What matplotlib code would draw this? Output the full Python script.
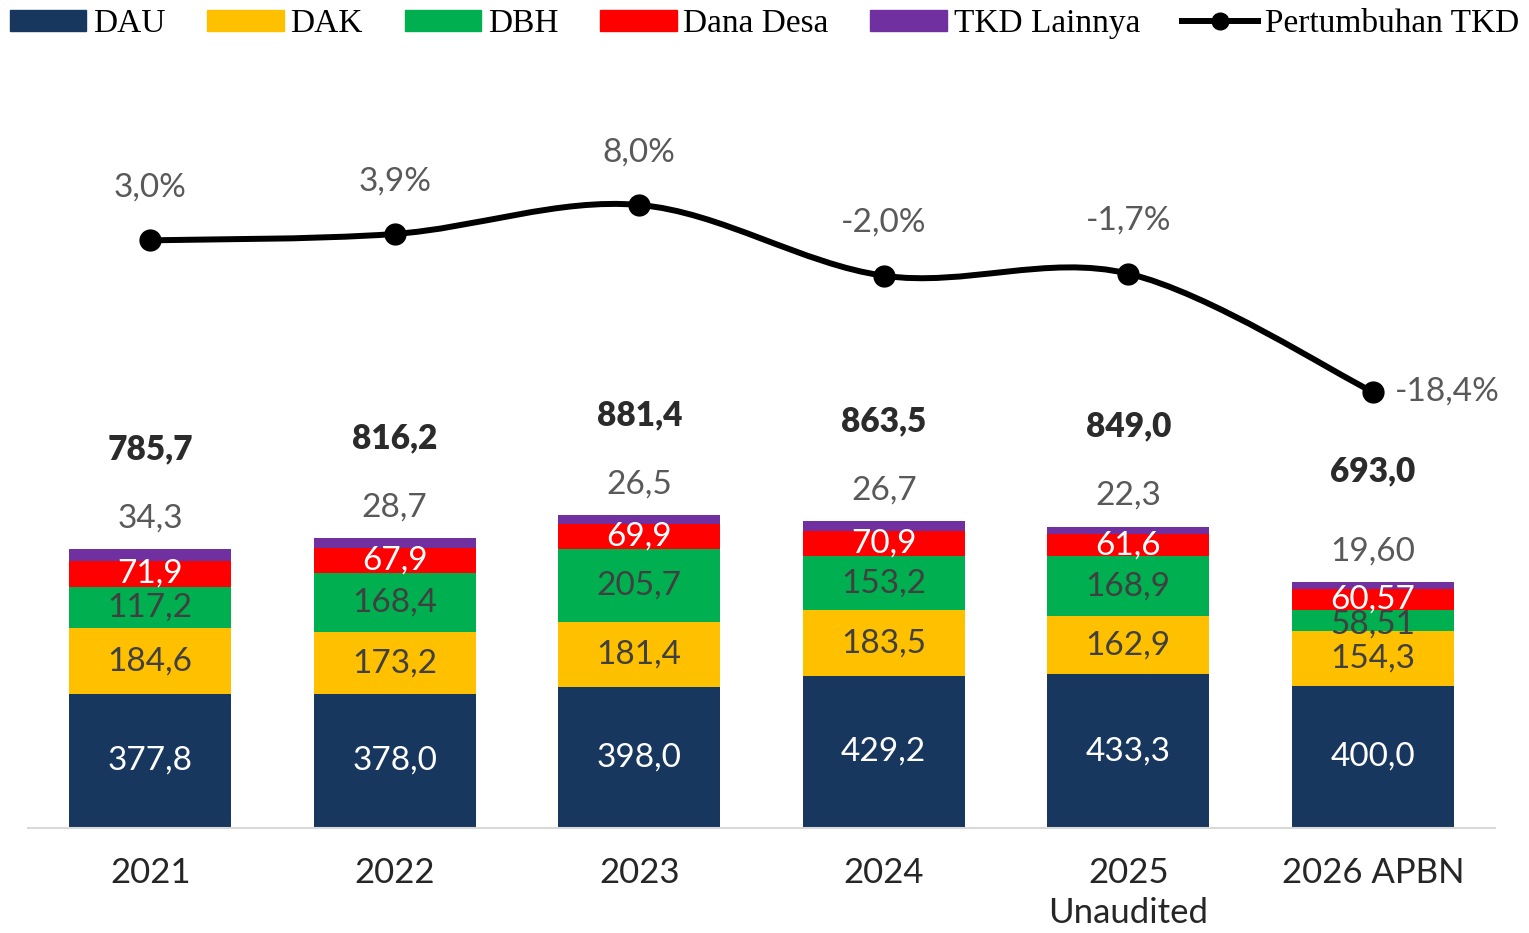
import matplotlib.pyplot as plt
import numpy as np
from matplotlib.lines import Line2D
from matplotlib.patches import Patch, PathPatch
from matplotlib.path import Path

years = ["2021", "2022", "2023", "2024", "2025\nUnaudited", "2026 APBN"]

dau = [377.8, 378.0, 398.0, 429.2, 433.3, 400.0]
dak = [184.6, 173.2, 181.4, 183.5, 162.9, 154.3]
dbh = [117.2, 168.4, 205.7, 153.2, 168.9, 58.51]
dana_desa = [71.9, 67.9, 69.9, 70.9, 61.6, 60.57]
tkd_lain = [34.3, 28.7, 26.5, 26.7, 22.3, 19.60]
totals = [785.7, 816.2, 881.4, 863.5, 849.0, 693.0]
growth = [3.0, 3.9, 8.0, -2.0, -1.7, -18.4]

# decimals shown in the labels (2026 APBN has two for some series)
dec_dbh = [1, 1, 1, 1, 1, 2]
dec_dd = [1, 1, 1, 1, 1, 2]
dec_lain = [1, 1, 1, 1, 1, 2]

series = [
    ("DAU", dau, "#17375e", "white", [1] * 6),
    ("DAK", dak, "#ffc000", "#404040", [1] * 6),
    ("DBH", dbh, "#00b050", "#404040", dec_dbh),
    ("Dana Desa", dana_desa, "#ff0000", "white", dec_dd),
]


def fmt(v, d=1):
    return f"{v:.{d}f}".replace(".", ",")


num_font = "Lato"
leg_font = "Liberation Serif"

fig = plt.figure(figsize=(15.29, 9.33), dpi=100)
ax = fig.add_axes([0.0183, 0.1125, 0.9595, 0.8232])
x = np.arange(len(years))
width = 0.663

bottom = np.zeros(len(years))
for name, vals, color, tcol, decs in series:
    vals = np.array(vals)
    ax.bar(x, vals, width, bottom=bottom, color=color, zorder=2)
    for xi, b, v, d in zip(x, bottom, vals, decs):
        # small segments on the last bar: nudge label down a little
        dy = -3 if (name == "DBH" and v < 80) else 0
        ax.annotate(fmt(v, d), (xi, b + v / 2), xytext=(0, dy),
                    textcoords="offset points", ha="center", va="center",
                    color=tcol, fontsize=24, family=num_font, zorder=3)
    bottom += vals

ax.bar(x, tkd_lain, width, bottom=bottom, color="#7030a0", zorder=2)
for xi, top, v, d in zip(x, bottom + np.array(tkd_lain), tkd_lain, dec_lain):
    ax.annotate(fmt(v, d), (xi, top), xytext=(0, 22), textcoords="offset points",
                ha="center", va="center", color="#595959", fontsize=24,
                family=num_font)
for xi, top, t in zip(x, bottom + np.array(tkd_lain), totals):
    ax.annotate(fmt(t), (xi, top), xytext=(0, 72 + (8 if xi == 5 else 0)),
                textcoords="offset points", ha="center", va="center",
                color="#2b2b2b", fontsize=24, fontweight="heavy", family=num_font)

ax.set_xlim(-0.5, 5.5)
ax.set_ylim(0, 2163)
ax.set_yticks([])
for s in ["top", "right", "left"]:
    ax.spines[s].set_visible(False)
ax.spines["bottom"].set_color("#d9d9d9")
ax.spines["bottom"].set_linewidth(1.5)
ax.set_xticks(x)
ax.set_xticklabels(years, fontsize=25, family=num_font, color="#262626",
                   linespacing=1.3)
ax.tick_params(axis="x", length=0, pad=21)

# growth line on secondary axis, smoothed like the source chart
ax2 = ax.twinx()
ax2.set_ylim(-80, 28.47)
ax2.set_axis_off()
pts = np.column_stack([x, growth]).astype(float)
verts = [pts[0]]
codes = [Path.MOVETO]
n = len(pts)
for i in range(n - 1):
    p0 = pts[i - 1] if i > 0 else pts[i]
    p1, p2 = pts[i], pts[i + 1]
    p3 = pts[i + 2] if i + 2 < n else pts[i + 1]
    c1 = p1 + (p2 - p0) / 6
    c2 = p2 - (p3 - p1) / 6
    verts += [c1, c2, p2]
    codes += [Path.CURVE4] * 3
ax2.add_patch(PathPatch(Path(verts, codes), fill=False, edgecolor="black",
                        linewidth=4.3, zorder=4))
ax2.plot(x, growth, "o", color="black", markersize=15, zorder=5)
for xi, g in zip(x, growth):
    if xi == 5:
        ax2.annotate(fmt(g) + "%", (xi, g), xytext=(16, 0),
                     textcoords="offset points", ha="left", va="center",
                     color="#595959", fontsize=24, family=num_font)
    else:
        ax2.annotate(fmt(g) + "%", (xi, g), xytext=(0, 38),
                     textcoords="offset points", ha="center", va="center",
                     color="#595959", fontsize=24, family=num_font)

handles = [Patch(color=c, label=nm) for nm, _, c, _, _ in series]
handles.append(Patch(color="#7030a0", label="TKD Lainnya"))
handles.append(Line2D([], [], color="black", linewidth=4.3, marker="o",
                      markersize=12, label="Pertumbuhan TKD"))
fig.legend(handles=handles, loc="upper center", bbox_to_anchor=(0.5, 1.012),
           ncol=6, frameon=False, prop={"family": leg_font, "size": 24},
           handlelength=2.3, handleheight=0.55, handletextpad=0.2,
           columnspacing=1.25, borderaxespad=0.2)

fig.savefig("out.png", dpi=100)
